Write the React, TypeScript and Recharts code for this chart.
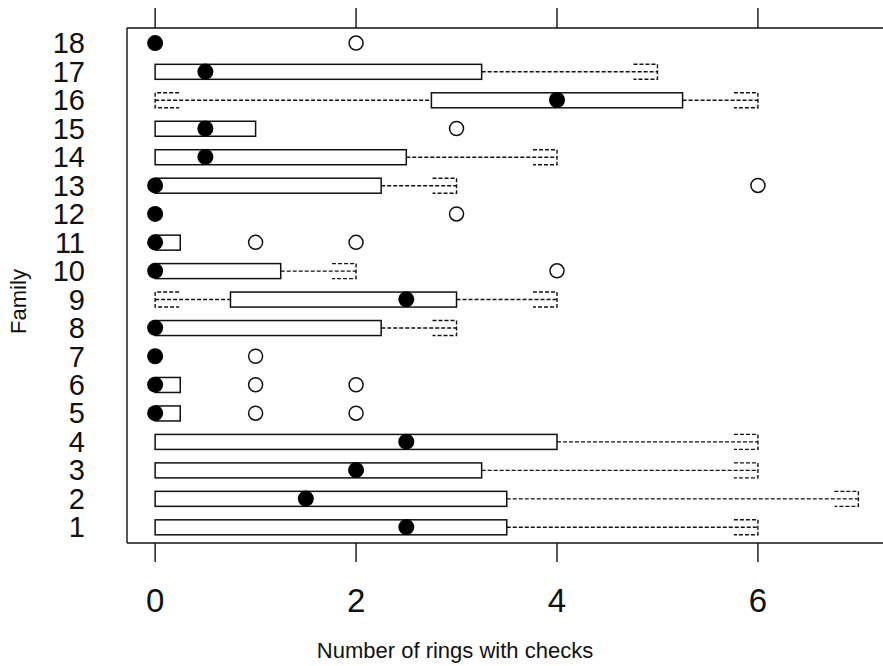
import { ComposedChart, Bar, Scatter, XAxis, YAxis } from 'recharts';

// family 1..18 (bottom to top)
const families = [1, 2, 3, 4, 5, 6, 7, 8, 9, 10, 11, 12, 13, 14, 15, 16, 17, 18];
const whiskerLo = [0, 0, 0, 0, 0, 0, 0, 0, 0, 0, 0, 0, 0, 0, 0, 0, 0, 0];
const q1 = [0, 0, 0, 0, 0, 0, 0, 0, 0.75, 0, 0, 0, 0, 0, 0, 2.75, 0, 0];
const medians = [2.5, 1.5, 2, 2.5, 0, 0, 0, 0, 2.5, 0, 0, 0, 0, 0.5, 0.5, 4, 0.5, 0];
const q3 = [3.5, 3.5, 3.25, 4, 0.25, 0.25, 0, 2.25, 3, 1.25, 0.25, 0, 2.25, 2.5, 1, 5.25, 3.25, 0];
const whiskerHi = [6, 7, 6, 6, 0.25, 0.25, 0, 3, 4, 2, 0.25, 0, 3, 4, 1, 6, 5, 0];
const outliers: number[][] = [
  [], [], [], [], [1, 2], [1, 2], [1], [], [], [4], [1, 2], [3], [6], [], [3], [], [], [2],
];

const xTicks = [0, 2, 4, 6];
const xDomain = [-0.28, 7.245];
const yDomain = [0.44, 18.53];

const rows = families.map((f, i) => ({
  family: f,
  base: whiskerLo[i],
  lowW: q1[i] - whiskerLo[i],
  box: q3[i] - q1[i],
  highW: whiskerHi[i] - q3[i],
}));

const medianPts = families.map((f, i) => ({ family: f, v: medians[i] }));
const outlierPts = families.flatMap((f, i) => outliers[i].map((v) => ({ family: f, v })));

const FONT = '"Liberation Sans", Arial, Helvetica, sans-serif';
const INK = '#111';
const STAPLE = 24;

const Nothing = () => <g />;

const LowWhisker = (p: any) => {
  const { x, y, width, height } = p;
  if (!(width > 0)) return <g />;
  const mid = y + height / 2;
  return (
    <g stroke={INK} strokeWidth={1.4} fill="none" strokeDasharray="4 2">
      <line x1={x} y1={mid} x2={x + width} y2={mid} />
      <path d={`M${x + STAPLE},${y} H${x} V${y + height} H${x + STAPLE}`} />
    </g>
  );
};

const HighWhisker = (p: any) => {
  const { x, y, width, height } = p;
  if (!(width > 0)) return <g />;
  const mid = y + height / 2;
  const end = x + width;
  return (
    <g stroke={INK} strokeWidth={1.4} fill="none" strokeDasharray="4 2">
      <line x1={x} y1={mid} x2={end} y2={mid} />
      <path d={`M${end - STAPLE},${y} H${end} V${y + height} H${end - STAPLE}`} />
    </g>
  );
};

const BoxShape = (p: any) => {
  const { x, y, width, height } = p;
  if (!(width > 0)) return <g />;
  return <rect x={x} y={y} width={width} height={height} fill="#fff" stroke={INK} strokeWidth={1.5} />;
};

const EmptyTick = () => <g />;

const FamilyLabel = (p: any) => {
  const vb = p.viewBox;
  const cx = vb.x + 18;
  const cy = vb.y + vb.height / 2 + 16;
  return (
    <text
      x={cx}
      y={cy}
      transform={`rotate(-90, ${cx}, ${cy})`}
      textAnchor="middle"
      dominantBaseline="central"
      fontSize={22}
      fontFamily={FONT}
      fill={INK}
    >
      Family
    </text>
  );
};

const XLabel = (p: any) => {
  const vb = p.viewBox;
  return (
    <text
      x={vb.x + vb.width / 2 - 50}
      y={vb.y + vb.height - 8}
      textAnchor="middle"
      fontSize={22}
      fontFamily={FONT}
      fill={INK}
    >
      Number of rings with checks
    </text>
  );
};

export default function App() {
  return (
    <div style={{ position: 'absolute', left: 0, top: 0, width: 883, height: 666, background: '#fff' }}>
      <ComposedChart
        width={883}
        height={666}
        data={rows}
        layout="vertical"
        margin={{ top: 0, right: 0, bottom: 0, left: 0 }}
        barSize={15}
      >
        <XAxis
          xAxisId="top"
          orientation="top"
          type="number"
          dataKey="v"
          domain={xDomain}
          allowDataOverflow
          ticks={xTicks}
          height={28}
          tickSize={20}
          tick={EmptyTick}
          axisLine={{ stroke: INK, strokeWidth: 1.4 }}
          tickLine={{ stroke: INK, strokeWidth: 1.4 }}
        />
        <XAxis
          type="number"
          dataKey="v"
          domain={xDomain}
          allowDataOverflow
          ticks={xTicks}
          height={123}
          tickSize={19}
          tickMargin={27}
          tick={{ fontSize: 33, fill: INK, fontFamily: FONT }}
          axisLine={{ stroke: INK, strokeWidth: 1.4 }}
          tickLine={{ stroke: INK, strokeWidth: 1.4 }}
          label={<XLabel />}
        />
        <YAxis
          type="number"
          dataKey="family"
          domain={yDomain}
          allowDataOverflow
          reversed
          ticks={families}
          interval={0}
          width={127}
          tickSize={0}
          tickMargin={42}
          tickLine={false}
          tick={{ fontSize: 29, fill: INK, fontFamily: FONT }}
          axisLine={{ stroke: INK, strokeWidth: 1.4 }}
          label={<FamilyLabel />}
        />
        <Bar dataKey="base" stackId="b" shape={Nothing} isAnimationActive={false} />
        <Bar dataKey="lowW" stackId="b" shape={LowWhisker} isAnimationActive={false} />
        <Bar dataKey="box" stackId="b" shape={BoxShape} isAnimationActive={false} />
        <Bar dataKey="highW" stackId="b" shape={HighWhisker} isAnimationActive={false} />
        <Scatter
          data={outlierPts}
          isAnimationActive={false}
          shape={(p: any) => <circle cx={p.cx} cy={p.cy} r={7} fill="#fff" stroke={INK} strokeWidth={1.5} />}
        />
        <Scatter
          data={medianPts}
          isAnimationActive={false}
          shape={(p: any) => <circle cx={p.cx} cy={p.cy} r={8} fill="#000" />}
        />
      </ComposedChart>
    </div>
  );
}
